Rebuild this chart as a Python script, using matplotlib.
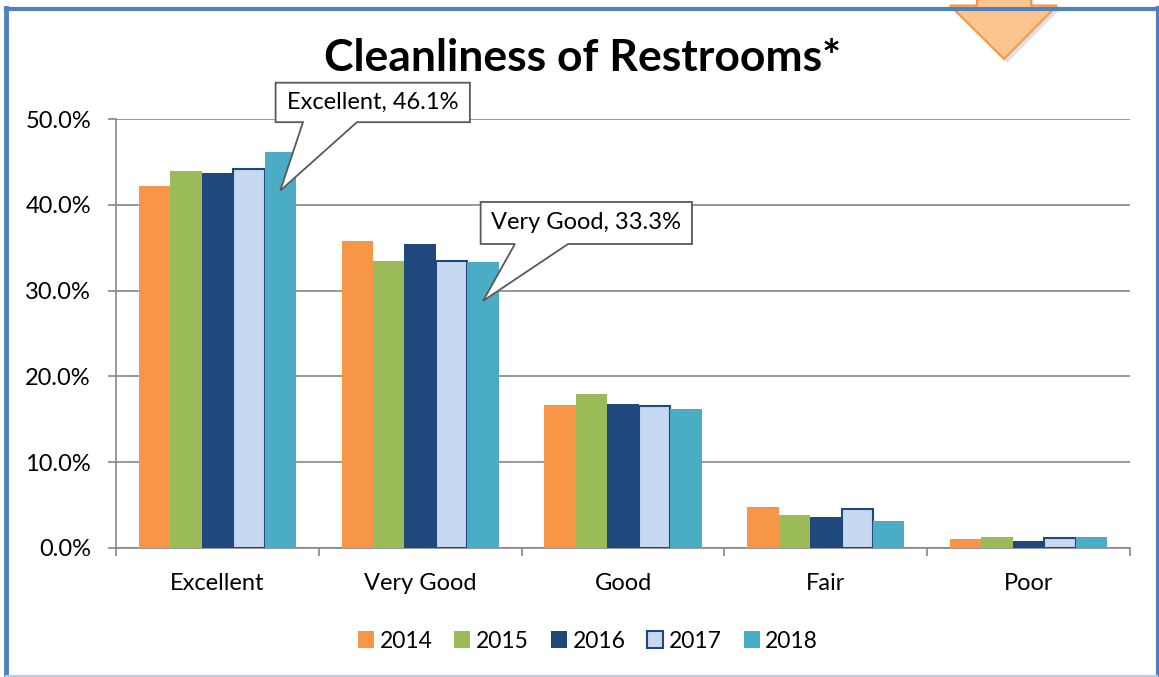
import matplotlib
matplotlib.use("Agg")
import matplotlib.pyplot as plt
from matplotlib.patches import Patch, Polygon
from matplotlib.lines import Line2D
import numpy as np

plt.rcParams['font.family'] = ['Lato', 'DejaVu Sans']

categories = ["Excellent", "Very Good", "Good", "Fair", "Poor"]
years = ["2014", "2015", "2016", "2017", "2018"]
values_2014 = [42.2, 35.8, 16.7, 4.8, 1.0]
values_2015 = [43.9, 33.4, 17.9, 3.9, 1.3]
values_2016 = [43.7, 35.4, 16.8, 3.6, 0.8]
values_2017 = [44.2, 33.5, 16.5, 4.6, 1.2]
values_2018 = [46.1, 33.3, 16.2, 3.1, 1.3]
series = [values_2014, values_2015, values_2016, values_2017, values_2018]

colors = ["#f79646", "#9bbb59", "#1f497d", "#c6d9f1", "#4bacc6"]
edges = ["#f79646", "#9bbb59", "#1f497d", "#1f497d", "#4bacc6"]

W, H = 1159, 677
fig = plt.figure(figsize=(W / 100, H / 100), dpi=100)
fig.patch.set_facecolor("white")

def fx(px):
    return px / W

def fy(py):
    return 1 - py / H

ax = fig.add_axes([fx(116), fy(548), fx(1130) - fx(116), fy(119) - fy(548)])

x = np.arange(len(categories))
bw = 0.155
for i, (vals, c, ec) in enumerate(zip(series, colors, edges)):
    lw = 1.5 if years[i] == "2017" else 0
    ax.bar(x + (i - 2) * bw, vals, width=bw, color=c, edgecolor=ec,
           linewidth=lw, zorder=3)

grid_c = "#868686"
ax.set_xlim(-0.5, len(categories) - 0.5)
ax.set_ylim(0, 50)
ax.set_yticks(np.arange(0, 51, 10))
ax.set_yticklabels([f"{v:.1f}%" for v in np.arange(0, 51, 10)])
ax.yaxis.grid(True, color=grid_c, linewidth=1.2, zorder=0)
ax.set_axisbelow(True)
for s in ["top", "right"]:
    ax.spines[s].set_visible(False)
for s in ["left", "bottom"]:
    ax.spines[s].set_color(grid_c)
    ax.spines[s].set_linewidth(1.2)

ax.set_xticks(np.arange(-0.5, len(categories), 1.0))
ax.set_xticklabels([])
ax.set_xticks(x, minor=True)
ax.set_xticklabels(categories, minor=True)
ax.tick_params(axis="x", which="major", direction="out", length=6,
               width=1.2, color=grid_c)
ax.tick_params(axis="x", which="minor", length=0, pad=18, labelsize=17)
ax.tick_params(axis="y", direction="out", length=6, width=1.2,
               color=grid_c, pad=12, labelsize=17)

# Callouts pointing at the 2018 bars
def callout(cat_idx, label, box, base, drop=4.45):
    x0, x1, y0, y1 = box
    b0, b1 = base
    tip_x = cat_idx + 2 * bw
    tip_y = series[4][cat_idx] - drop
    pts = [(x0, y0), (x1, y0), (x1, y1), (b1, y1), (tip_x, tip_y),
           (b0, y1), (x0, y1)]
    poly = Polygon(pts, closed=True, facecolor="white", edgecolor="#595959",
                   linewidth=1.3, clip_on=False, zorder=6)
    ax.add_patch(poly)
    ax.text((x0 + x1) / 2, (y0 + y1) / 2, label, ha="center", va="center",
            fontsize=17, zorder=7, clip_on=False)

callout(0, f"{categories[0]}, {values_2018[0]:.1f}%",
        (0.287, 1.245, 54.23, 49.63), (0.422, 0.688))
callout(1, f"{categories[1]}, {values_2018[1]:.1f}%",
        (1.298, 2.340, 40.33, 35.43), (1.467, 1.729), drop=4.5)

fig.text(fx(582), fy(58), "Cleanliness of Restrooms*", ha="center",
         va="center", fontsize=32, fontweight="bold")

handles = [Patch(facecolor=c, edgecolor=ec,
                 linewidth=1.5 if y == "2017" else 0)
           for c, ec, y in zip(colors, edges, years)]
fig.legend(handles, years, loc="center", ncol=5,
           bbox_to_anchor=(fx(588), fy(641)), frameon=False, fontsize=16.5,
           handlelength=0.7, handleheight=0.7, handletextpad=0.25,
           columnspacing=0.95)

# Frame around the chart
frame_c = "#4f81bd"
fig.add_artist(Line2D([fx(6), fx(6)], [fy(8), fy(677)], color=frame_c,
                      linewidth=3.5, transform=fig.transFigure))
fig.add_artist(Line2D([fx(6), fx(1157)], [fy(8.5), fy(8.5)], color=frame_c,
                      linewidth=3, transform=fig.transFigure))
fig.add_artist(Line2D([fx(1157.5), fx(1157.5)], [fy(8), fy(677)],
                      color=frame_c, linewidth=3, transform=fig.transFigure))
fig.add_artist(Line2D([fx(6), fx(1157)], [fy(676), fy(676)],
                      color="#b8cce4", linewidth=1.5,
                      transform=fig.transFigure))

# Down arrow in the top corner
arrow_pts = [(977, -5), (1031, -5), (1031, 5.5), (1057, 5.5), (1004, 59),
             (950, 5.5), (977, 5.5)]
shadow = Polygon([(fx(px + 3), fy(py + 4)) for px, py in arrow_pts],
                 closed=True, facecolor="#000000", alpha=0.12,
                 edgecolor="none", transform=fig.transFigure)
fig.add_artist(shadow)
arrow = Polygon([(fx(px), fy(py)) for px, py in arrow_pts], closed=True,
                facecolor="#fcc590", edgecolor="#f79646", linewidth=1.5,
                transform=fig.transFigure)
fig.add_artist(arrow)

fig.savefig("out.png", dpi=100)
